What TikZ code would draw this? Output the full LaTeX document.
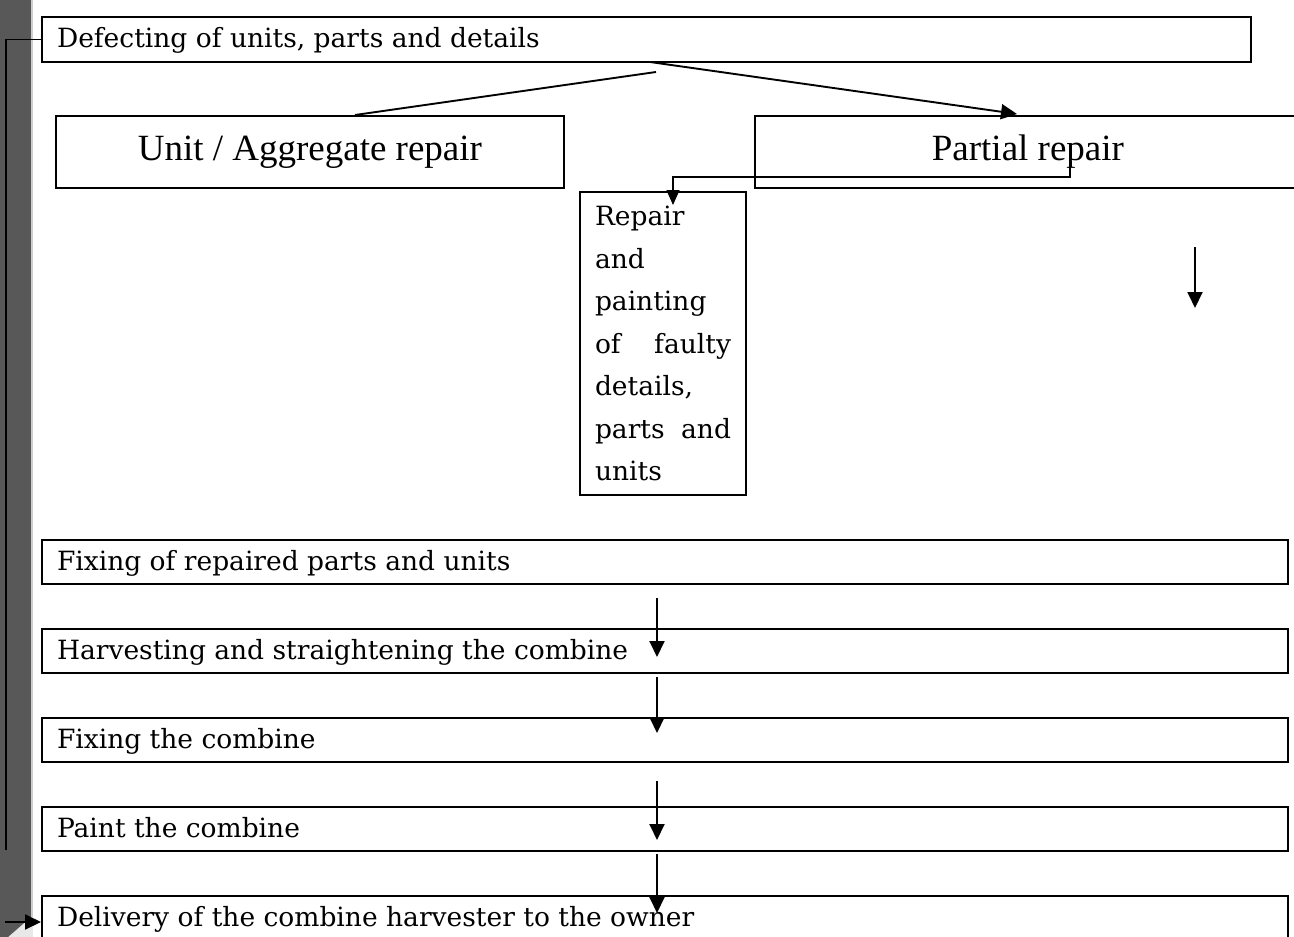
\documentclass[tikz,border=0pt]{standalone}
\usepackage{fontspec}
\setmainfont{Liberation Serif}
\newfontfamily\camfont{DejaVu Serif}
\usetikzlibrary{arrows.meta,calc}
\definecolor{bargray}{RGB}{88,88,88}
\definecolor{barlight}{RGB}{205,205,205}
\definecolor{barpale}{RGB}{232,232,232}
\begin{document}
\begin{tikzpicture}[x=1pt,y=-1pt,
  boxbase/.style={draw, line width=2pt, anchor=north west, inner xsep=15pt, inner ysep=0pt, align=flush left, font=\camfont\fontsize{26.5}{42.5}\selectfont},
  box/.style={boxbase, text height=22pt, text depth=6pt},
  bigbox/.style={draw, line width=1.8pt, anchor=north west, inner sep=0pt, font=\fontsize{37}{44}\selectfont, text height=26pt, text depth=8pt, align=center},
  arr/.style={line width=1.9pt, -{Triangle[length=16pt,width=15pt]}},
  thinarr/.style={line width=1.2pt, -{Triangle[length=15pt,width=13pt]}},
  plain/.style={line width=1.9pt},
]
\clip (0,0) rectangle (1294,937);
\fill[white] (0,0) rectangle (1294,937);
% grey margin bar
\fill[barpale] (0,905) rectangle (33,937);
\fill[bargray] (0,0) -- (31,0) -- (31,917) -- (8,937) -- (0,937) -- cycle;
\draw[barlight, line width=2pt] (32,0) -- (32,917);

% boxes
\node[box, minimum width=1209pt, text width=1179pt, minimum height=45pt] (def) at (41,16) {Defecting of units, parts and details};
\node[bigbox, minimum width=508pt, minimum height=72pt] (unit) at (55,115) {Unit / Aggregate repair};
\node[bigbox, minimum width=546pt, minimum height=72pt] (partial) at (754,115) {Partial repair};
\node[boxbase, text width=136pt, minimum height=303pt] (rep) at (579,191) {Repair\\and\\painting\\of\hfill faulty\\details,\\parts\hfill and\\units};
\node[box, minimum width=1246pt, text width=1216pt, minimum height=44pt] (fix1) at (41,539) {Fixing of repaired parts and units};
\node[box, minimum width=1246pt, text width=1216pt, minimum height=44pt] (harv) at (41,628) {Harvesting and straightening the combine};
\node[box, minimum width=1246pt, text width=1216pt, minimum height=44pt] (fix2) at (41,717) {Fixing the combine};
\node[box, minimum width=1246pt, text width=1216pt, minimum height=44pt] (paint) at (41,806) {Paint the combine};
\node[box, minimum width=1246pt, text width=1216pt, minimum height=44pt] (deliv) at (41,895) {Delivery of the combine harvester to the owner};

% connectors from the top box
\coordinate (s1) at (656,72);
\draw[plain] (s1) -- ($(unit.north west)+(300,0)$);
\draw[arr] ($(def.south west)+(609,-1)$) -- ($(partial.north west)+(263,-1)$);

% elbow from partial repair to repair box
\coordinate (e1) at (1070,165);
\coordinate (e2) at (1070,177);
\draw[thinarr] (e1) -- (e2) -- (e2 -| 673,0) -- ($(rep.north west)+(94,14)$);

% lone arrow on the right
\coordinate (r1) at (1195,247);
\coordinate (r2) at (1195,308);
\draw[arr] (r1) -- (r2);

% chain of arrows
\draw[arr] ($(fix1.south west)+(616,13)$) -- ($(harv.north west)+(616,29)$);
\draw[arr] ($(harv.south west)+(616,3)$) -- ($(fix2.north west)+(616,16)$);
\draw[arr] ($(fix2.south west)+(616,18)$) -- ($(paint.north west)+(616,34)$);
\draw[arr] ($(paint.south west)+(616,2)$) -- ($(deliv.north west)+(616,18)$);

% feedback line on the left
\coordinate (fb) at (6,850);
\draw[line width=1.6pt] (def.west) -| (fb);
\coordinate (fb2) at (5,922);
\draw[arr] (fb2) -- (fb2 -| deliv.west);
\end{tikzpicture}
\end{document}
